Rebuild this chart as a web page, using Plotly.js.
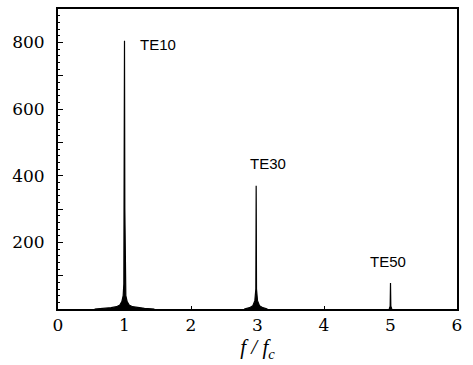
<!DOCTYPE html>
<html>
<head>
<meta charset="utf-8">
<script src="https://cdn.plot.ly/plotly-3.0.1.min.js"></script>
<style>html,body{margin:0;padding:0;background:#fff;}#chart{width:473px;height:365px;}</style>
</head>
<body>
<div id="chart"></div>
<script>
// TE10 resonance (f/fc, amplitude)
const te10X = [0.55, 0.7, 0.8, 0.88, 0.93, 0.96, 0.98, 0.99, 0.995, 1.0, 1.005, 1.01, 1.02, 1.04, 1.07, 1.12, 1.2, 1.3, 1.45];
const te10Y = [0, 2, 4, 7, 12, 22, 40, 75, 300, 805, 300, 75, 40, 22, 12, 7, 4, 2, 0];
// TE30 resonance
const te30X = [2.8, 2.88, 2.93, 2.96, 2.975, 2.98, 2.985, 3.0, 3.03, 3.08, 3.15];
const te30Y = [0, 4, 10, 25, 60, 370, 60, 25, 10, 4, 0];
// TE50 resonance
const te50X = [4.98, 4.995, 5.0, 5.005, 5.02];
const te50Y = [0, 8, 78, 8, 0];

const modeLabels = ["TE10", "TE30", "TE50"];
const labelX = [1.2, 2.86, 4.66];
const labelY = [793, 436, 142];

const yTickVals = [200, 400, 600, 800];
const yMidTickVals = [100, 300, 500, 700];
const xTickVals = [0, 1, 2, 3, 4, 5, 6];

const peak = (x, y) => ({
  x: x, y: y, type: "scatter", mode: "lines",
  line: {color: "#000", width: 1.2},
  fill: "tozeroy", fillcolor: "#000",
  hoverinfo: "skip", showlegend: false
});

const data = [peak(te10X, te10Y), peak(te30X, te30Y), peak(te50X, te50Y),
  {x: [0], y: [0], yaxis: "y2", type: "scatter", mode: "markers", marker: {opacity: 0}, hoverinfo: "skip", showlegend: false}];

const serif = "DejaVu Serif, Liberation Serif, serif";
const layout = {
  width: 473, height: 365,
  margin: {l: 58, r: 16, t: 9, b: 56},
  paper_bgcolor: "#fff", plot_bgcolor: "#fff",
  showlegend: false,
  xaxis: {
    range: [0, 6], tickvals: xTickVals, ticks: "inside", ticklen: 3, tickwidth: 1,
    tickcolor: "#000", showline: true, linewidth: 2, linecolor: "#000", mirror: true,
    showgrid: false, zeroline: false,
    tickfont: {family: serif, size: 17, color: "#000"},
    title: {text: "<i>f / f<sub>c</sub></i>", font: {family: "Liberation Serif, serif", size: 21, color: "#000"}, standoff: 4}
  },
  yaxis: {
    range: [0, 900], tickvals: yTickVals, ticks: "inside", ticklen: 5, tickwidth: 1,
    tickcolor: "#000", showline: true, linewidth: 2, linecolor: "#000", mirror: true,
    showgrid: false, zeroline: false,
    minor: {dtick: 20, ticks: "inside", ticklen: 2, tickcolor: "#000", tickwidth: 1, showgrid: false},
    tickfont: {family: serif, size: 17, color: "#000"},
    ticklabelstandoff: 8
  },
  yaxis2: {
    overlaying: "y", side: "left", range: [0, 900], tickvals: yMidTickVals,
    ticks: "inside", ticklen: 5, tickwidth: 1, tickcolor: "#000",
    showticklabels: false, showgrid: false, zeroline: false, showline: false
  },
  annotations: modeLabels.map((t, i) => ({
    x: labelX[i], y: labelY[i], xref: "x", yref: "y", text: t, showarrow: false,
    xanchor: "left", yanchor: "middle",
    font: {family: "Liberation Sans, Arial, sans-serif", size: 15, color: "#000"}
  }))
};

Plotly.newPlot("chart", data, layout, {displayModeBar: false, staticPlot: true});
</script>
</body>
</html>
